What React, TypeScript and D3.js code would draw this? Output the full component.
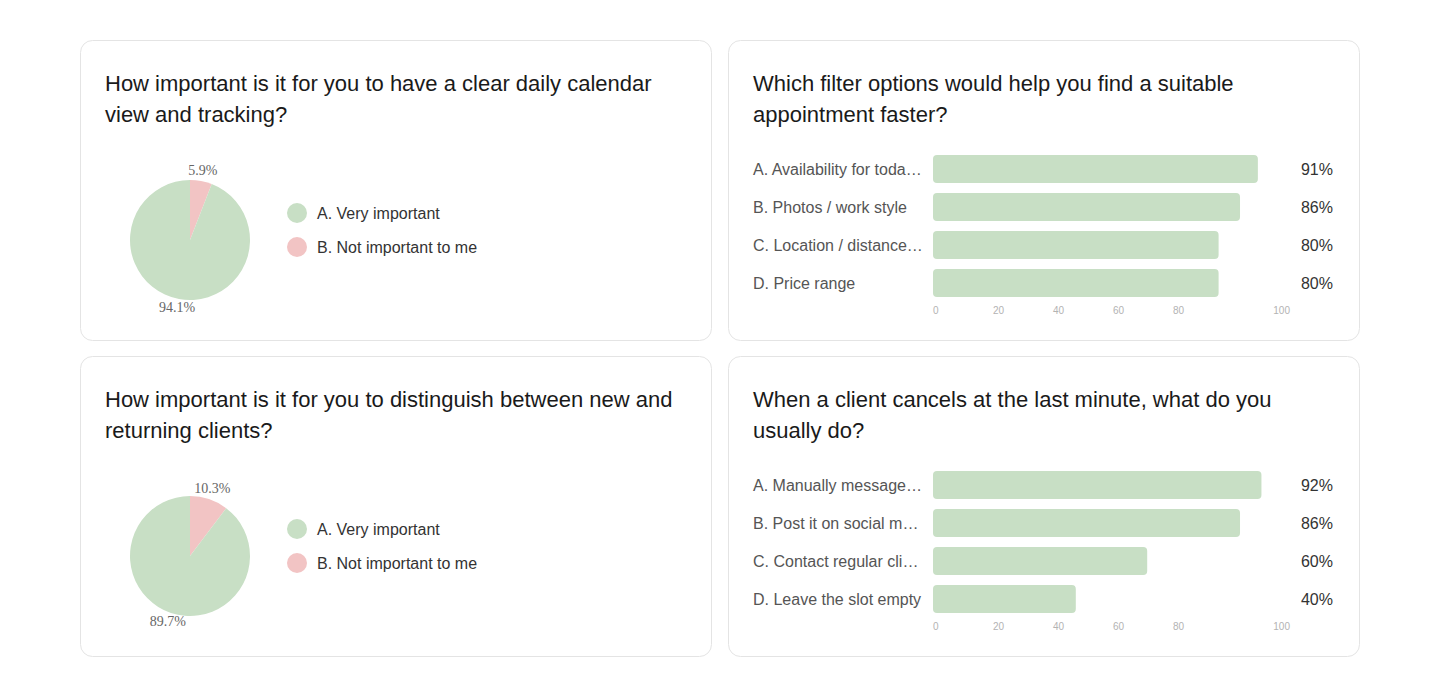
import React from "react";
import * as d3 from "d3";

const pie1Labels = ["A. Very important", "B. Not important to me"];
const pie1Values = [94.1, 5.9];
const pie1Title = ["How important is it for you to have a clear daily calendar", "view and tracking?"];

const pie2Labels = ["A. Very important", "B. Not important to me"];
const pie2Values = [89.7, 10.3];
const pie2Title = ["How important is it for you to distinguish between new and", "returning clients?"];

const bar1Labels = ["A. Availability for toda…", "B. Photos / work style", "C. Location / distance…", "D. Price range"];
const bar1Values = [91, 86, 80, 80];
const bar1Title = ["Which filter options would help you find a suitable", "appointment faster?"];

const bar2Labels = ["A. Manually message…", "B. Post it on social m…", "C. Contact regular cli…", "D. Leave the slot empty"];
const bar2Values = [92, 86, 60, 40];
const bar2Title = ["When a client cancels at the last minute, what do you", "usually do?"];

const axisTicks = [0, 20, 40, 60, 80, 100];

const GREEN = "#c8dfc5";
const PINK = "#f2c4c4";
const SANS = "'Liberation Sans', Arial, sans-serif";
const SERIF = "'Liberation Serif', 'Times New Roman', serif";

const CARD_W = 631;
const CARD_H = 300;

function Card({ x, y, title, children }: { x: number; y: number; title: string[]; children: React.ReactNode }) {
  return (
    <g transform={`translate(${x},${y})`}>
      <rect x={0.5} y={0.5} width={CARD_W} height={CARD_H} rx={12} ry={12} fill="#fff" stroke="#e4e4e4" />
      {title.map((t, i) => (
        <text key={i} x={25} y={51 + i * 30.5} fontFamily={SANS} fontSize={22} fill="#1a1a1a">
          {t}
        </text>
      ))}
      {children}
    </g>
  );
}

function PieBlock({ labels, values }: { labels: string[]; values: number[] }) {
  const cx = 110, cy = 200, r = 60;
  const data = labels.map((l, i) => ({ label: l, value: values[i], color: i === 0 ? GREEN : PINK }));
  // pink slice starts at 12 o'clock
  const arcs = d3.pie<any>().sort(null).value((d: any) => d.value)([data[1], data[0]]);
  const arc = d3.arc<any>().innerRadius(0).outerRadius(r);
  const labelArc = d3.arc<any>().innerRadius(70).outerRadius(70);
  return (
    <g>
      <g transform={`translate(${cx},${cy})`}>
        {arcs.map((a, i) => (
          <path key={i} d={arc(a) as string} fill={a.data.color} />
        ))}
        {arcs.map((a, i) => {
          const [lx, ly] = labelArc.centroid(a);
          return (
            <text key={"l" + i} x={lx} y={ly - 1} textAnchor="middle" dominantBaseline="central" fontFamily={SERIF} fontSize={14} fill="#666">
              {a.data.value.toFixed(1)}%
            </text>
          );
        })}
      </g>
      {data.map((d, i) => (
        <g key={i} transform={`translate(217,${173 + i * 34})`}>
          <circle cx={0} cy={0} r={10} fill={d.color} />
          <text x={20} y={0} dominantBaseline="central" fontFamily={SANS} fontSize={16} fill="#333">
            {d.label}
          </text>
        </g>
      ))}
    </g>
  );
}

function BarBlock({ labels, values }: { labels: string[]; values: number[] }) {
  const x0 = 205;
  const x = d3.scaleLinear().domain([0, 100]).range([x0, x0 + 357]);
  const tickX = d3.scaleLinear().domain([0, 100]).range([x0, x0 + 300]);
  const y = d3.scaleBand<string>().domain(labels).range([110, 262]).paddingInner(10 / 38).paddingOuter(5 / 38);
  return (
    <g>
      {labels.map((l, i) => {
        const yy = y(l) as number;
        const h = y.bandwidth();
        return (
          <g key={i}>
            <text x={25} y={yy + h / 2} dominantBaseline="central" fontFamily={SANS} fontSize={16} fill="#555">
              {l}
            </text>
            <rect x={x(0)} y={yy} width={x(values[i]) - x(0)} height={h} rx={4} ry={4} fill={GREEN} />
            <text x={605} y={yy + h / 2} dominantBaseline="central" textAnchor="end" fontFamily={SANS} fontSize={16} fill="#333">
              {values[i]}%
            </text>
          </g>
        );
      })}
      {axisTicks.map((t, i) => {
        const last = i === axisTicks.length - 1;
        return (
          <text
            key={t}
            x={last ? x(t) : tickX(t)}
            y={270}
            textAnchor={last ? "end" : "start"}
            dominantBaseline="central"
            fontFamily={SANS}
            fontSize={10}
            fill="#b3b3b3"
          >
            {t}
          </text>
        );
      })}
    </g>
  );
}

export default function App() {
  return (
    <svg width={1440} height={697} style={{ position: "absolute", left: 0, top: 0, display: "block" }}>
      <rect width={1440} height={697} fill="#fff" />
      <Card x={80} y={40} title={pie1Title}>
        <PieBlock labels={pie1Labels} values={pie1Values} />
      </Card>
      <Card x={728} y={40} title={bar1Title}>
        <BarBlock labels={bar1Labels} values={bar1Values} />
      </Card>
      <Card x={80} y={356} title={pie2Title}>
        <PieBlock labels={pie2Labels} values={pie2Values} />
      </Card>
      <Card x={728} y={356} title={bar2Title}>
        <BarBlock labels={bar2Labels} values={bar2Values} />
      </Card>
    </svg>
  );
}
